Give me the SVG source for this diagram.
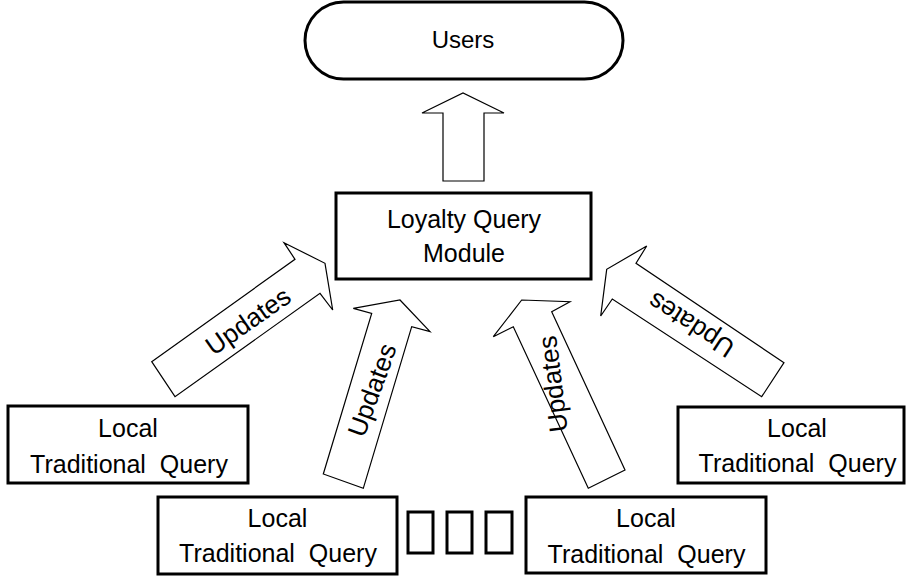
<svg xmlns="http://www.w3.org/2000/svg" width="909" height="576" viewBox="0 0 909 576">
<style>
.box{fill:#fff;stroke:#000;stroke-width:3}
.arr{fill:#fff;stroke:#000;stroke-width:1.2;stroke-linejoin:miter}
.t{font-family:"Liberation Sans",Arial,sans-serif;font-size:24px;fill:#000;text-anchor:middle;white-space:pre}
.b{font-size:25px}
.u{font-size:26px}
</style>
<rect width="909" height="576" fill="#fff"/>
<g id="connectors">
  <polygon class="arr" points="443,181 443,113 422,113 463,93 504,113 484,113 484,181"/>
  <polygon class="arr" points="151.7,361.7 295,259.3 284,242.7 325,263.3 332.7,310 320,293.3 175,396.7"/>
  <polygon class="arr" points="323.3,474 371.7,313.3 353.3,308.3 400,300 430,331.7 411.7,326.7 363.3,488.3"/>
  <polygon class="arr" points="588.3,488.3 513.3,326.7 493.3,336.7 521.7,300 570,301.7 551.7,311.7 625,470"/>
  <polygon class="arr" points="784,362.7 636,263.3 646.7,246 606.7,269.3 600.7,316 612.3,299 761.7,396.7"/>
  <text class="t u" transform="translate(248,321) rotate(-35)" y="9">Updates</text>
  <text class="t u" transform="translate(372,390) rotate(-70)" y="9">Updates</text>
  <text class="t u" transform="translate(553,384) rotate(-97)" y="9">Updates</text>
  <text class="t u" transform="translate(691,325) rotate(-147)" y="9">Updates</text>
</g>
<g id="users">
  <rect class="box" x="305" y="2" width="318" height="77" rx="38.5"/>
  <text class="t" x="463" y="48">Users</text>
</g>
<g id="loyalty">
  <rect class="box" x="336" y="193" width="255" height="86"/>
  <text class="t b" x="464" y="228">Loyalty Query</text>
  <text class="t b" x="464" y="262">Module</text>
</g>
<g id="local1">
  <rect class="box" x="8" y="406" width="240" height="77"/>
  <text class="t b" x="128" y="437">Local</text>
  <text class="t b" x="129" y="473">Traditional  Query</text>
</g>
<g id="local2">
  <rect class="box" x="158" y="497" width="239" height="77"/>
  <text class="t b" x="277.5" y="527">Local</text>
  <text class="t b" x="278" y="562">Traditional  Query</text>
</g>
<g id="ellipsis">
  <rect class="box" x="408" y="512" width="25" height="41"/>
  <rect class="box" x="447" y="512" width="25" height="41"/>
  <rect class="box" x="486" y="512" width="26" height="41"/>
</g>
<g id="local3">
  <rect class="box" x="526" y="497" width="240" height="76"/>
  <text class="t b" x="646" y="527">Local</text>
  <text class="t b" x="646.5" y="563">Traditional  Query</text>
</g>
<g id="local4">
  <rect class="box" x="678" y="407" width="226" height="76"/>
  <text class="t b" x="797" y="437">Local</text>
  <text class="t b" x="797.5" y="472">Traditional  Query</text>
</g>
</svg>
